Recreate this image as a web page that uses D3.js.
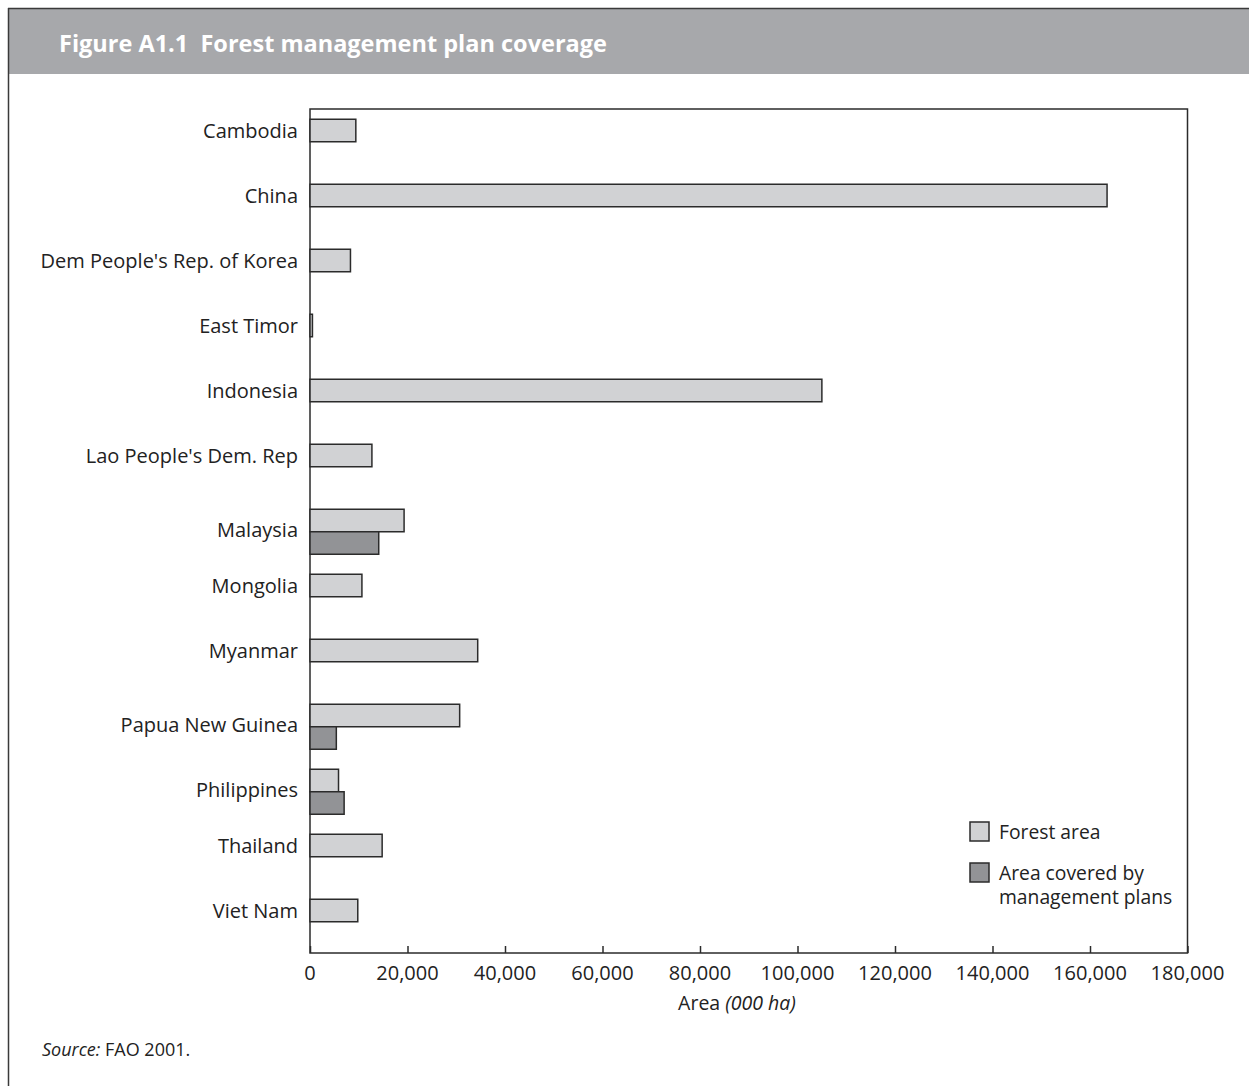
<!DOCTYPE html>
<html>
<head>
<meta charset="utf-8">
<script src="https://cdn.jsdelivr.net/npm/d3@7"></script>
<style>
  body { margin: 0; background: #fff; }
  svg { display: block; }
</style>
</head>
<body>
<script>
// Data (000 ha)
const countries = [
  "Cambodia", "China", "Dem People's Rep. of Korea", "East Timor", "Indonesia",
  "Lao People's Dem. Rep", "Malaysia", "Mongolia", "Myanmar", "Papua New Guinea",
  "Philippines", "Thailand", "Viet Nam"
];
const forestArea = [9400, 163500, 8300, 500, 105000, 12700, 19300, 10650, 34400, 30700, 5850, 14800, 9800];
const planArea = [null, null, null, null, null, null, 14100, null, null, 5400, 7000, null, null];
const xTicks = [0, 20000, 40000, 60000, 80000, 100000, 120000, 140000, 160000, 180000];
const seriesNames = ["Forest area", "Area covered by|management plans"];

const w = 1249;
const h = 1086;
const marginTop = 109;
const marginBottom = 953;
const marginLeft = 310;
const marginRight = 1187.5;
const barH = 22.5;
const font = "'Open Sans', sans-serif";
const colForest = "#d1d2d4";
const colPlan = "#929396";
const colLine = "#2b2b2b";

const svg = d3.select("body").append("svg").attr("width", w).attr("height", h);

// frame + title band
svg.append("rect").attr("x", 8).attr("y", 9).attr("width", w - 8).attr("height", 65).attr("fill", "#a7a8ab");
svg.append("line").attr("x1", 8).attr("x2", w).attr("y1", 8.5).attr("y2", 8.5).attr("stroke", "#3a3a3a").attr("stroke-width", 1.5);
svg.append("line").attr("x1", 8.5).attr("x2", 8.5).attr("y1", 8).attr("y2", h).attr("stroke", "#3a3a3a").attr("stroke-width", 1.5);
svg.append("text")
  .attr("x", 59).attr("y", 52)
  .attr("fill", "#fff")
  .attr("font-family", font)
  .attr("font-weight", "bold")
  .attr("font-size", "23.5px")
  .attr("xml:space", "preserve")
  .text("Figure A1.1  Forest management plan coverage");

const xScale = d3.scaleLinear().domain([0, 180000]).range([marginLeft, marginRight]);
const yScale = d3.scalePoint().domain(countries).range([130.5, 910.5]);

// plot box
svg.append("rect")
  .attr("x", marginLeft).attr("y", marginTop)
  .attr("width", marginRight - marginLeft).attr("height", marginBottom - marginTop)
  .attr("fill", "none").attr("stroke", colLine).attr("stroke-width", 1.5);

// forest bars
svg.selectAll("rect.forest")
  .data(countries)
  .enter()
  .append("rect")
  .attr("class", "forest")
  .attr("x", xScale(0))
  .attr("y", (d) => yScale(d) - barH / 2)
  .attr("width", (d, i) => xScale(forestArea[i]) - xScale(0))
  .attr("height", barH)
  .attr("fill", colForest)
  .attr("stroke", colLine)
  .attr("stroke-width", 1.5);

// management plan bars, directly under the forest bar
svg.selectAll("rect.plan")
  .data(countries.filter((d, i) => planArea[i] != null))
  .enter()
  .append("rect")
  .attr("class", "plan")
  .attr("x", xScale(0))
  .attr("y", (d) => yScale(d) + barH / 2)
  .attr("width", (d) => xScale(planArea[countries.indexOf(d)]) - xScale(0))
  .attr("height", barH)
  .attr("fill", colPlan)
  .attr("stroke", colLine)
  .attr("stroke-width", 1.5);

// category labels
svg.append("g")
  .selectAll("text")
  .data(countries)
  .enter()
  .append("text")
  .attr("x", marginLeft - 12)
  .attr("y", (d, i) => yScale(d) + (planArea[i] != null ? barH / 2 - 2 : 0))
  .attr("dy", "0.35em")
  .attr("text-anchor", "end")
  .attr("font-family", font)
  .attr("font-size", "20px")
  .attr("fill", "#222")
  .text((d) => d);

// x axis
svg.append("g")
  .attr("transform", `translate(0,${marginBottom})`)
  .call(d3.axisTop(xScale).tickValues(xTicks).tickSize(7).tickFormat(""))
  .call((g) => g.select(".domain").remove())
  .call((g) => g.selectAll(".tick line").attr("stroke", colLine).attr("stroke-width", 1.5));

svg.append("g")
  .selectAll("text")
  .data(xTicks)
  .enter()
  .append("text")
  .attr("x", (d) => xScale(d))
  .attr("y", marginBottom + 27)
  .attr("text-anchor", "middle")
  .attr("font-family", font)
  .attr("font-size", "20px")
  .attr("fill", "#222")
  .text((d) => d3.format(",")(d));

const xl = svg.append("text")
  .attr("x", 737).attr("y", 1010)
  .attr("text-anchor", "middle")
  .attr("font-family", font)
  .attr("font-size", "19.5px")
  .attr("fill", "#222");
xl.append("tspan").text("Area ");
xl.append("tspan").attr("font-style", "italic").text("(000 ha)");

// legend
const legend = svg.append("g").attr("transform", "translate(970,822)");
[colForest, colPlan].forEach((c, i) => {
  legend.append("rect")
    .attr("x", 0).attr("y", i * 41)
    .attr("width", 19).attr("height", 19)
    .attr("fill", c).attr("stroke", colLine).attr("stroke-width", 1.5);
  seriesNames[i].split("|").forEach((line, j) => {
    legend.append("text")
      .attr("x", 29).attr("y", i * 41 + 17 + j * 24)
      .attr("font-family", font)
      .attr("font-size", "19.3px")
      .attr("fill", "#222")
      .text(line);
  });
});

// source
const src = svg.append("text")
  .attr("x", 42).attr("y", 1056)
  .attr("font-family", font)
  .attr("font-size", "18px")
  .attr("fill", "#222");
src.append("tspan").attr("font-style", "italic").text("Source:");
src.append("tspan").text(" FAO 2001.");
</script>
</body>
</html>
